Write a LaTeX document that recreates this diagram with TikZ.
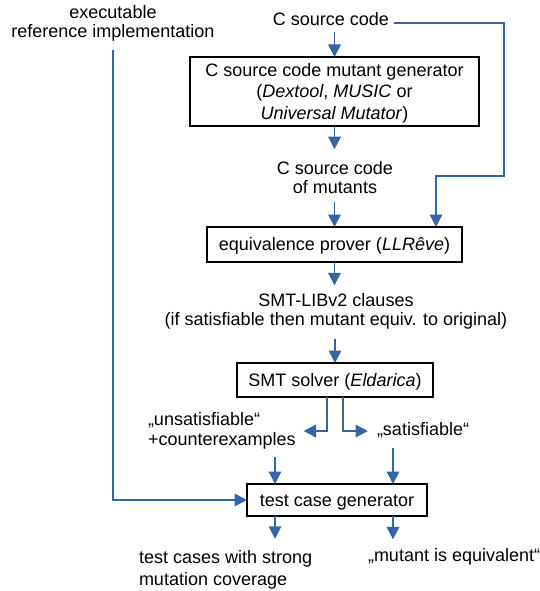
\documentclass[tikz,border=0pt]{standalone}
\usepackage{fontspec}
\setmainfont{Liberation Sans}
\usetikzlibrary{arrows.meta}
\definecolor{flowblue}{RGB}{52,101,164}
\newcommand\lnstrut{\rule[-2.5pt]{0pt}{19pt}}
\begin{document}
\begin{tikzpicture}[x=1pt,y=-1pt,
  every node/.style={font=\fontsize{18}{19.6}\selectfont, inner sep=0pt, outer sep=0pt},
  txt/.style={align=center},
  ltxt/.style={align=left, anchor=west},
  box/.style={draw=black, line width=1.8pt, align=center},
  arr/.style={draw=flowblue, line width=1.8pt, -{Triangle[length=12.5pt,width=12.5pt]}}]
\useasboundingbox (0,0) rectangle (540,591);

\node[txt] (exe) at (113,21.75) {\lnstrut executable\\\lnstrut reference implementation};
\node[txt] (src) at (331,19) {\lnstrut C source code};
\node[box, minimum width=289pt, minimum height=69pt] (gen) at (334.5,91.5)
  {\lnstrut C source code mutant generator\\\lnstrut(\textit{Dextool}, \textit{MUSIC} or\\\lnstrut\textit{Universal Mutator})};
\node[txt] (mut) at (335,177) {\lnstrut C source code\\\lnstrut of mutants};
\node[box, minimum width=255pt, minimum height=35pt] (prov) at (334.5,244.5)
  {\lnstrut equivalence prover (\textit{LLRêve})};
\node[txt] (smt) at (336,309.75)
  {\lnstrut SMT-LIBv2 clauses\\\lnstrut(if satisfiable then mutant equiv. to original)};
\node[box, minimum width=196pt, minimum height=34pt] (solv) at (335,380)
  {\lnstrut SMT solver (\textit{Eldarica})};
\node[ltxt] (uns) at (148,429) {\lnstrut „unsatisfiable“\\\lnstrut +counterexamples};
\node[ltxt] (sat) at (377,428) {\lnstrut „satisfiable“};
\node[box, minimum width=180pt, minimum height=32pt] (tcg) at (337,500)
  {\lnstrut test case generator};
\node[ltxt] (tc) at (139,568) {\lnstrut test cases with strong\\\lnstrut mutation coverage};
\node[ltxt] (eq) at (368,555) {\lnstrut „mutant is equivalent“};

\coordinate (srcR) at (394,23);
\coordinate (rc) at (504,176);
\coordinate (provR) at ([xshift=101.5pt]prov.north);
\coordinate (tcgL) at ([xshift=-62pt]tcg.north);
\coordinate (tcgR) at ([xshift=56pt]tcg.north);
\coordinate (tcgLb) at ([xshift=-62pt]tcg.south);
\coordinate (tcgRb) at ([xshift=56pt]tcg.south);
\coordinate (unsT) at ([xshift=8pt,yshift=-2pt]uns.east);
\coordinate (satT) at ([xshift=-9pt,yshift=-3pt]sat.west);
\coordinate (solvL) at ([xshift=-8pt]solv.south);
\coordinate (solvR) at ([xshift=8pt]solv.south);

\draw[arr, shorten <=13pt] (gen.north |- src.center) -- (gen.north);
\draw[arr, shorten >=8.5pt] (gen.south) -- (gen.south |- mut.north);
\draw[arr, shorten <=5.5pt] (prov.north |- mut.south) -- (prov.north);
\draw[arr] (srcR) -| (rc) -| (provR);
\draw[arr, shorten >=4.5pt] (prov.south) -- (prov.south |- smt.north);
\draw[arr, shorten <=9pt] (solv.north |- smt.south) -- (solv.north);
\draw[arr] (solvL) |- (unsT);
\draw[arr] (solvR) |- (satT);
\draw[arr, shorten <=8.5pt] (tcgL |- uns.south) -- (tcgL);
\draw[arr, shorten <=10.5pt] (tcgR |- sat.south) -- (tcgR);
\draw[arr, shorten <=8pt] (exe.south) |- (tcg.west);
\draw[arr, shorten >=8.5pt] (tcgLb) -- (tcgLb |- tc.north);
\draw[arr, shorten >=5.5pt] (tcgRb) -- (tcgRb |- eq.north);
\end{tikzpicture}
\end{document}
